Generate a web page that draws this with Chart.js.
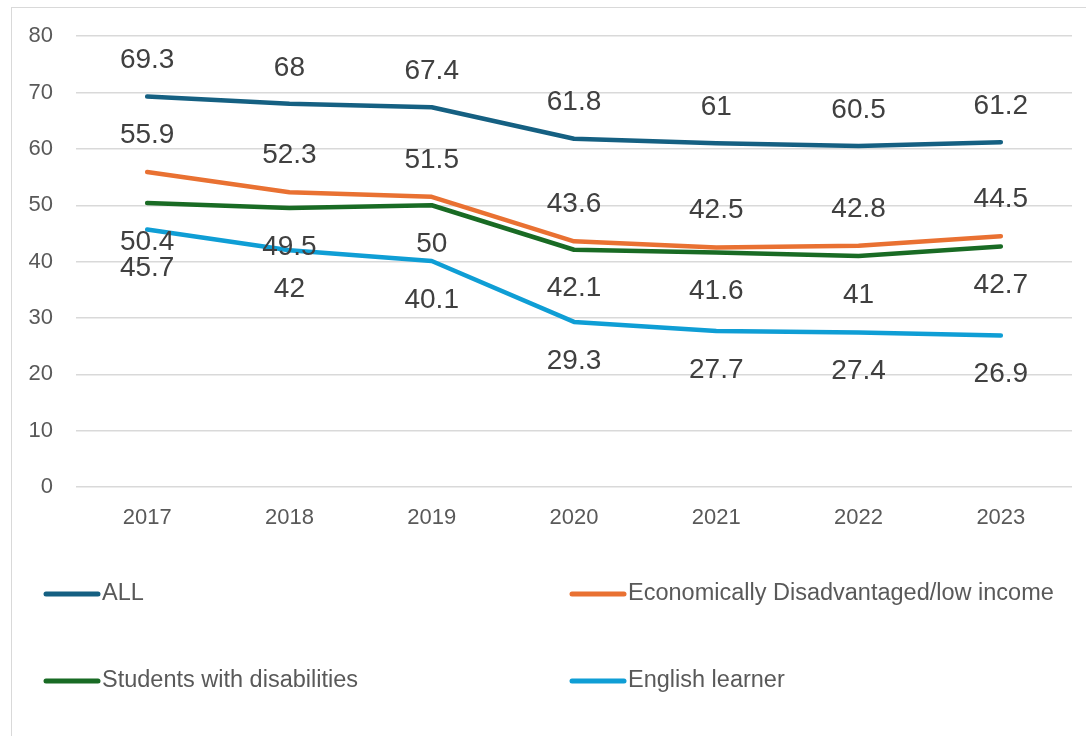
<!DOCTYPE html>
<html>
<head>
<meta charset="utf-8">
<script src="https://cdn.jsdelivr.net/npm/chart.js@4"></script>
<style>
  html, body { margin: 0; padding: 0; background: #fff; }
  #frame { position: absolute; left: 11px; top: 7px; width: 1100px; height: 760px; border: 1.5px solid #d9d9d9; }
  #chart { position: absolute; left: 0; top: 0; }
</style>
</head>
<body>
<div id="frame"></div>
<canvas id="chart" width="1086" height="736"></canvas>
<script>
const years = ['2017', '2018', '2019', '2020', '2021', '2022', '2023'];
const allStudents = [69.3, 68, 67.4, 61.8, 61, 60.5, 61.2];
const econDisadv = [55.9, 52.3, 51.5, 43.6, 42.5, 42.8, 44.5];
const disabilities = [50.4, 49.5, 50, 42.1, 41.6, 41, 42.7];
const englishLearner = [45.7, 42, 40.1, 29.3, 27.7, 27.4, 26.9];

// labels above or below each line, Excel style
const valueLabels = {
    id: 'valueLabels',
    afterDatasetsDraw(chart) {
        const ctx = chart.ctx;
        ctx.save();
        ctx.font = '28px "Liberation Sans", Arial, sans-serif';
        ctx.fillStyle = '#404040';
        ctx.textAlign = 'center';
        ctx.textBaseline = 'middle';
        chart.data.datasets.forEach((ds, i) => {
            const meta = chart.getDatasetMeta(i);
            meta.data.forEach((pt, j) => {
                ctx.fillText(String(ds.data[j]), pt.x, pt.y + ds.labelShift);
            });
        });
        ctx.restore();
    }
};

// two-column legend under the plot
const gridLegend = {
    id: 'gridLegend',
    afterDraw(chart) {
        const ctx = chart.ctx;
        const cols = [44, 570];
        const rows = [594, 681];
        ctx.save();
        ctx.font = '23.5px "Liberation Sans", Arial, sans-serif';
        ctx.fillStyle = '#595959';
        ctx.textBaseline = 'middle';
        chart.data.datasets.forEach((ds, i) => {
            const x = cols[i % 2];
            const y = rows[Math.floor(i / 2)];
            ctx.strokeStyle = ds.borderColor;
            ctx.lineWidth = 5;
            ctx.lineCap = 'round';
            ctx.beginPath();
            ctx.moveTo(x + 2, y);
            ctx.lineTo(x + 54, y);
            ctx.stroke();
            ctx.fillText(ds.label, x + 58, y);
        });
        ctx.restore();
    }
};

const ctx = document.getElementById('chart').getContext('2d');
const chart = new Chart(ctx, {
    type: 'line',
    data: {
        labels: years,
        datasets: [
            { label: 'ALL', data: allStudents, borderColor: '#156082', labelShift: -36 },
            { label: 'Economically Disadvantaged/low income', data: econDisadv, borderColor: '#E97132', labelShift: -37 },
            { label: 'Students with disabilities', data: disabilities, borderColor: '#196B24', labelShift: 39 },
            { label: 'English learner', data: englishLearner, borderColor: '#0F9ED5', labelShift: 39 }
        ]
    },
    options: {
        responsive: false,
        animation: false,
        devicePixelRatio: 1,
        layout: { padding: { left: 0, right: 14, top: 36, bottom: 0 } },
        elements: {
            line: { borderWidth: 4.5, tension: 0, fill: false, borderCapStyle: 'round', borderJoinStyle: 'round' },
            point: { radius: 0, hoverRadius: 0 }
        },
        plugins: {
            legend: { display: false },
            tooltip: { enabled: false }
        },
        scales: {
            x: {
                offset: true,
                grid: { display: false, drawTicks: false },
                border: { display: false },
                ticks: { color: '#595959', padding: 18, font: { size: 22, family: '"Liberation Sans", Arial, sans-serif' } },
                afterFit(scale) { scale.height = 249; }
            },
            y: {
                min: 0,
                max: 80,
                ticks: { stepSize: 10, color: '#595959', padding: 23, font: { size: 22, family: '"Liberation Sans", Arial, sans-serif' } },
                grid: { color: '#d9d9d9', lineWidth: 1.5, drawTicks: false },
                border: { display: false },
                afterFit(scale) { scale.width = 76; }
            }
        }
    },
    plugins: [valueLabels, gridLegend]
});
</script>
</body>
</html>
